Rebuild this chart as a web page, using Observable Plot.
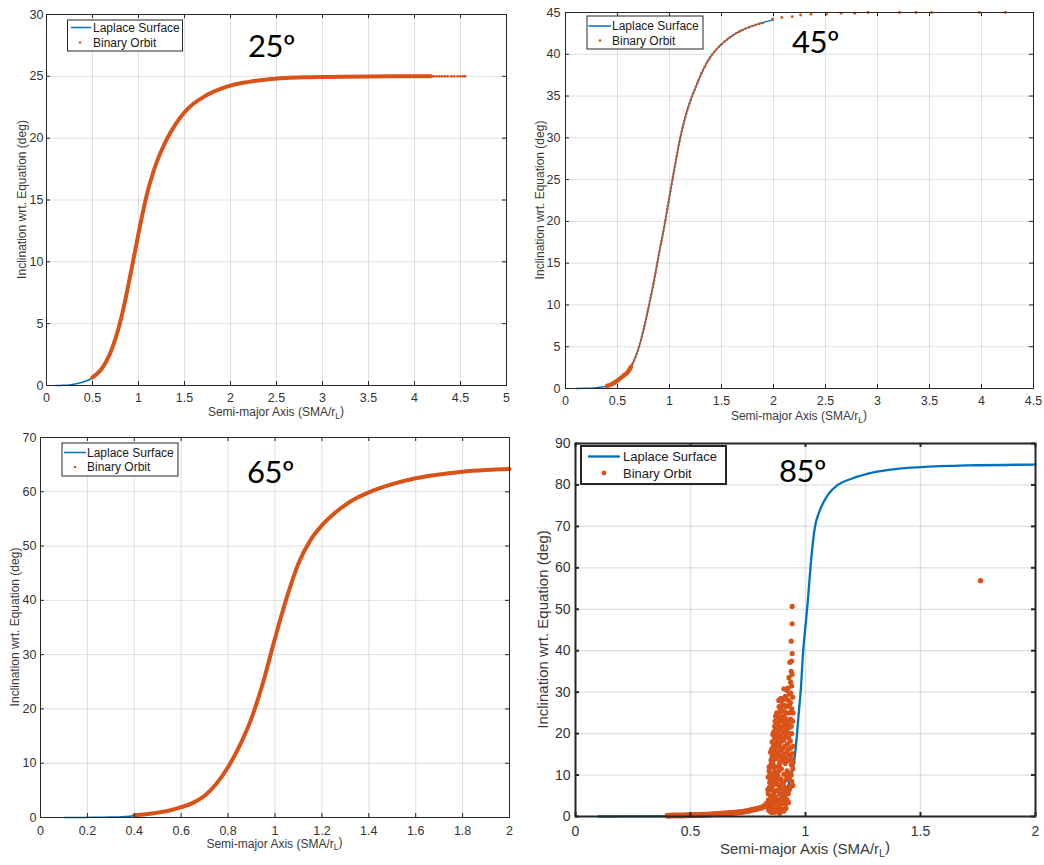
<!DOCTYPE html>
<html><head><meta charset="utf-8">
<script src="https://cdn.jsdelivr.net/npm/d3@7"></script>
<script src="https://cdn.jsdelivr.net/npm/@observablehq/plot@0.6"></script>
<style>
body{margin:0;background:#fff;}
#root{position:relative;width:1044px;height:865px;overflow:hidden;background:#fff;}
</style></head><body><div id="root"></div>
<script>
// ---------- DATA ----------
const BLUE = "#0072BD", ORANGE = "#D95319";
const xLabel = "Semi-major Axis (SMA/r", xLabelSub = "L", xLabelEnd = ")";
const yLabel = "Inclination wrt. Equation (deg)";
const legendNames = ["Laplace Surface", "Binary Orbit"];
const panelTitles = ["25º", "45º", "65º", "85º"];

// Panel 1 : 25º
const x1Ticks = [0,0.5,1,1.5,2,2.5,3,3.5,4,4.5,5];
const y1Ticks = [0,5,10,15,20,25,30];
const lap25X = [0.10,0.15,0.20,0.25,0.30,0.35,0.40,0.45,0.50,0.55,0.60,0.65,0.70,0.75,0.80,0.85,0.90,0.95,1.00,1.05,1.10,1.15,1.20,1.25,1.30,1.40,1.50,1.60,1.70,1.80,1.90,2.00,2.20,2.40,2.60,2.80,3.00,3.50,4.00,4.20];
const lap25Y = [0.00,0.01,0.02,0.05,0.10,0.18,0.28,0.42,0.62,0.95,1.35,1.95,2.75,3.80,5.10,6.70,8.50,10.40,12.30,14.10,15.70,17.00,18.10,19.00,19.80,21.10,22.10,22.80,23.30,23.70,24.00,24.25,24.55,24.75,24.86,24.92,24.95,24.99,25.00,25.00];
const orb25X = [0.50,0.55,0.60,0.65,0.70,0.75,0.80,0.85,0.90,0.95,1.00,1.05,1.10,1.15,1.20,1.25,1.30,1.40,1.50,1.60,1.70,1.80,1.90,2.00,2.20,2.40,2.60,2.80,3.00,3.50,4.00,4.18];
const orb25Y = [0.65,0.95,1.35,1.95,2.75,3.80,5.10,6.70,8.50,10.40,12.30,14.10,15.70,17.00,18.10,19.00,19.80,21.10,22.10,22.80,23.30,23.70,24.00,24.25,24.55,24.75,24.86,24.92,24.95,24.99,25.00,25.00];
const orb25TailX = [4.21,4.24,4.27,4.30,4.33,4.36,4.40,4.43,4.47,4.50,4.53,4.55];
const orb25TailY = [25.0,25.0,25.0,25.0,25.0,25.0,25.0,25.0,25.0,25.0,25.0,25.0];

// Panel 2 : 45º
const x2Ticks = [0,0.5,1,1.5,2,2.5,3,3.5,4,4.5];
const y2Ticks = [0,5,10,15,20,25,30,35,40,45];
const lap45X = [0.10,0.20,0.30,0.35,0.40,0.45,0.50,0.55,0.60,0.65,0.70,0.75,0.80,0.85,0.90,0.95,1.00,1.05,1.10,1.15,1.20,1.25,1.30,1.35,1.40,1.50,1.60,1.70,1.80,1.90,2.00];
const lap45Y = [0.00,0.02,0.10,0.18,0.30,0.55,0.95,1.45,2.00,3.10,4.70,7.00,9.80,12.80,16.20,19.40,23.00,26.50,29.80,32.40,34.40,36.00,37.50,38.80,39.80,41.20,42.20,42.90,43.40,43.80,44.15];
const orb45DenseX = [0.40,0.45,0.50,0.55,0.60,0.63];
const orb45DenseY = [0.30,0.55,0.95,1.45,2.00,2.60];
const orb45CurveX = [0.63,0.65,0.70,0.75,0.80,0.85,0.90,0.95,1.00,1.05,1.10,1.15,1.20,1.25,1.30,1.35,1.40,1.50,1.60,1.70,1.80,1.90];
const orb45CurveY = [2.60,3.10,4.70,7.00,9.80,12.80,16.20,19.40,23.00,26.50,29.80,32.40,34.40,36.00,37.50,38.80,39.80,41.20,42.20,42.90,43.40,43.75];
const orb45TailX = [1.99,2.08,2.18,2.26,2.36,2.51,2.65,2.78,2.91,3.21,3.37,3.52,3.98,4.23];
const orb45TailY = [44.2,44.4,44.5,44.7,44.8,44.8,44.9,44.9,45.0,45.0,45.0,45.0,45.0,45.0];

// Panel 3 : 65º
const x3Ticks = [0,0.2,0.4,0.6,0.8,1,1.2,1.4,1.6,1.8,2];
const y3Ticks = [0,10,20,30,40,50,60,70];
const lap65X = [0.10,0.20,0.30,0.35,0.40,0.45,0.50,0.55,0.60,0.65,0.70,0.75,0.80,0.85,0.90,0.95,1.00,1.05,1.10,1.15,1.20,1.25,1.30,1.35,1.40,1.50,1.60,1.70,1.80,1.90,2.00];
const lap65Y = [0.00,0.02,0.08,0.15,0.30,0.55,0.90,1.30,1.90,2.70,4.00,6.20,9.30,13.30,18.30,25.00,33.00,40.50,46.80,51.00,53.80,55.90,57.60,58.90,59.90,61.40,62.50,63.20,63.70,64.00,64.20];
const orb65X = [0.40,0.45,0.50,0.55,0.60,0.65,0.70,0.75,0.80,0.85,0.90,0.95,1.00,1.05,1.10,1.15,1.20,1.25,1.30,1.35,1.40,1.50,1.60,1.70,1.80,1.90,2.00];
const orb65Y = [0.40,0.60,0.90,1.30,1.90,2.70,4.00,6.20,9.30,13.30,18.30,25.00,33.00,40.50,46.80,51.00,53.80,55.90,57.60,58.90,59.90,61.40,62.50,63.20,63.70,64.00,64.20];

// Panel 4 : 85º
const x4Ticks = [0,0.5,1,1.5,2];
const y4Ticks = [0,10,20,30,40,50,60,70,80,90];
const lap85X = [0.10,0.30,0.50,0.60,0.70,0.75,0.80,0.85,0.88,0.90,0.92,0.935,0.95,0.96,0.97,0.98,0.99,1.00,1.01,1.02,1.03,1.04,1.06,1.08,1.10,1.14,1.20,1.30,1.40,1.50,1.70,2.00];
const lap85Y = [0.00,0.03,0.20,0.40,0.80,1.20,1.80,2.80,3.80,5.00,6.50,9.50,13.00,18.00,24.50,31.00,40.00,46.00,52.00,59.00,65.00,69.50,73.50,76.00,77.80,80.00,81.50,83.10,83.90,84.30,84.70,84.90];
const orb85BandX = [0.40,0.41,0.42,0.43,0.44,0.45,0.46,0.47,0.48,0.49,0.50,0.51,0.52,0.53,0.54,0.55,0.56,0.57,0.58,0.59,0.60,0.61,0.62,0.63,0.64,0.65,0.66,0.67,0.68,0.69,0.70,0.71,0.72,0.73,0.74,0.75,0.76,0.77,0.78,0.79,0.80,0.81,0.82,0.83,0.84];
const orb85BandY = [0.20,0.20,0.22,0.22,0.24,0.25,0.26,0.27,0.28,0.29,0.30,0.32,0.34,0.36,0.38,0.40,0.42,0.44,0.47,0.50,0.55,0.58,0.62,0.66,0.70,0.74,0.78,0.82,0.86,0.90,0.95,1.02,1.08,1.15,1.25,1.35,1.48,1.60,1.72,1.85,2.00,2.20,2.50,3.00,3.80];
const orb85Scatter = [
 [0.942,50.7],[0.942,46.5],[0.938,42.3],[0.942,39.3],[0.932,37.2],[0.940,37.5],[0.938,35.0],[0.942,34.3],[0.935,32.4],[0.940,31.5],
 [0.906,30.8],[0.920,30.4],[0.930,29.5],[0.912,29.0],[0.925,28.0],[0.935,27.5],[0.898,27.0],[0.918,26.5],[0.940,26.0],[0.905,25.5],[0.928,25.0],
 [0.880,24.0],[0.890,23.5],[0.900,24.2],[0.912,23.8],[0.922,23.0],[0.935,23.5],[0.875,22.5],[0.885,22.0],[0.895,21.5],[0.908,22.0],
 [0.918,21.0],[0.930,21.5],[0.870,21.0],[0.880,20.0],[0.892,19.5],[0.903,20.3],[0.915,19.5],[0.927,19.0],[0.940,20.0],[0.865,19.0],
 [0.875,18.0],[0.887,17.5],[0.898,18.2],[0.910,17.0],[0.922,17.5],[0.935,16.5],[0.945,17.0],[0.860,17.0],[0.870,16.0],[0.882,15.5],
 [0.895,16.0],[0.905,15.0],[0.918,15.5],[0.930,14.8],[0.942,15.2],
 [0.855,14.5],[0.865,13.8],[0.877,14.0],[0.888,13.0],[0.900,13.5],[0.912,12.8],[0.925,13.5],[0.938,12.5],[0.850,12.5],[0.860,11.8],
 [0.872,12.0],[0.884,11.0],[0.895,11.5],[0.920,11.0],[0.932,10.5],[0.945,11.5],[0.845,10.5],[0.856,10.0],[0.868,9.5],[0.880,9.8],
 [0.893,9.0],[0.915,8.8],[0.928,9.2],[0.940,8.5],[0.848,8.5],[0.860,8.0],[0.873,7.8],[0.885,7.5],[0.898,8.2],[0.910,7.0],[0.935,7.2],[0.945,7.5],
 [0.842,7.0],[0.852,6.5],[0.864,6.0],[0.876,6.3],[0.888,5.5],[0.900,6.0],[0.912,5.0],[0.925,5.5],[0.838,5.5],[0.848,5.0],
 [0.858,4.5],[0.870,4.8],[0.882,4.0],[0.895,4.5],[0.908,3.5],[0.920,4.0],[0.840,4.0],[0.850,3.5],[0.862,3.0],[0.874,3.2],
 [0.886,2.5],[0.898,3.0],[0.845,2.5],[0.856,2.0],[0.868,1.8],[0.880,2.2],[0.892,1.5],[0.906,1.3],[0.915,2.0],[0.835,3.0],
 [0.838,9.5],[0.842,12.0],[0.848,15.5],[0.855,18.0],[0.862,20.5],[0.868,23.0],[0.875,25.0],[0.885,26.5],[0.893,28.5],
 [0.840,1.5],[0.846,1.2],[0.852,1.0],[0.858,1.4],[0.864,1.0],[0.870,1.2],[0.876,1.5],[0.882,1.0],[0.888,0.8],[0.898,1.8],
 [0.838,2.2],[0.844,3.4],[0.852,4.2],[0.860,5.2],[0.866,3.8],[0.878,3.0],[0.890,3.6],[0.902,4.2],[0.914,3.0],[0.926,3.4],
 [0.836,6.5],[0.844,8.2],[0.850,9.2],[0.856,7.2],[0.866,8.6],[0.878,8.8],[0.890,6.8],[0.904,7.8],[0.918,6.2],[0.930,6.5],
 [0.842,11.0],[0.850,13.6],[0.858,12.8],[0.866,10.8],[0.874,10.5],[0.886,12.2],[0.906,10.2],[0.918,9.8],[0.938,10.0],[0.946,13.0],
 [0.852,16.2],[0.858,15.2],[0.866,17.2],[0.874,14.8],[0.884,16.8],[0.892,14.5],[0.904,16.5],[0.912,14.2],[0.926,16.2],[0.940,14.0],
 [0.858,19.8],[0.866,21.8],[0.872,19.5],[0.880,18.8],[0.888,21.0],[0.896,19.0],[0.906,18.5],[0.914,21.2],[0.924,20.2],[0.934,18.2],
 [0.870,24.2],[0.878,22.8],[0.888,25.2],[0.896,23.0],[0.906,23.0],[0.916,25.0],[0.926,22.2],[0.938,21.8],[0.944,23.0],[0.930,26.8],
 [0.884,28.0],[0.892,26.0],[0.902,28.2],[0.910,26.8],[0.916,28.4],[0.924,31.0],[0.936,29.8],[0.944,28.8],[0.946,25.0],[0.928,33.5],
 [1.761,56.9]
];

// ---------- helpers ----------
const pts = (xs, ys) => xs.map((x, i) => ({x, y: ys[i]}));
const FONT = "'Liberation Sans', Arial, Helvetica, sans-serif";
const root = document.getElementById("root");

function makePanel(cfg) {
  const W = cfg.width - cfg.mL - cfg.mR, H = cfg.height - cfg.mT - cfg.mB;
  const tl = cfg.tickLen, ink = "#262626";
  const svg = Plot.plot({
    width: cfg.width, height: cfg.height,
    marginLeft: cfg.mL, marginRight: cfg.mR, marginTop: cfg.mT, marginBottom: cfg.mB,
    style: {fontFamily: FONT, fontSize: cfg.tickFont + "px", color: "#333", background: "transparent", overflow: "visible"},
    x: {domain: cfg.xDomain, ticks: cfg.xTicks, tickSize: 0, tickPadding: cfg.xPad, tickFormat: d => String(d), label: null},
    y: {domain: cfg.yDomain, ticks: cfg.yTicks, tickSize: 0, tickPadding: cfg.yPad, tickFormat: d => String(d), label: null},
    marks: [
      Plot.ruleX(cfg.xTicks, {stroke: ink, strokeOpacity: 0.14, strokeWidth: cfg.gridW}),
      Plot.ruleY(cfg.yTicks, {stroke: ink, strokeOpacity: 0.14, strokeWidth: cfg.gridW}),
      ...cfg.marks,
      Plot.tickX(cfg.xTicks, {x: d => d, insetTop: H - tl, stroke: ink, strokeWidth: cfg.frameW}),
      Plot.tickX(cfg.xTicks, {x: d => d, insetBottom: H - tl, stroke: ink, strokeWidth: cfg.frameW}),
      Plot.tickY(cfg.yTicks, {y: d => d, insetRight: W - tl, stroke: ink, strokeWidth: cfg.frameW}),
      Plot.tickY(cfg.yTicks, {y: d => d, insetLeft: W - tl, stroke: ink, strokeWidth: cfg.frameW}),
      Plot.frame({stroke: ink, strokeWidth: cfg.frameW})
    ]
  });
  svg.style.position = "absolute";
  svg.style.left = cfg.left + "px";
  svg.style.top = cfg.top + "px";
  const s = d3.select(svg), ox = cfg.left, oy = cfg.top;

  // x axis label with subscript
  const xt = s.append("text")
    .attr("x", cfg.mL + W / 2).attr("y", cfg.xLabelY - oy)
    .attr("text-anchor", "middle").attr("fill", "#3a3a3a")
    .style("font-family", FONT).style("font-size", cfg.labelFont + "px");
  xt.append("tspan").text(xLabel);
  xt.append("tspan").text(xLabelSub).attr("dy", "0.3em").style("font-size", "0.72em");
  xt.append("tspan").text(xLabelEnd).attr("dy", "-0.3em");

  // y axis label
  s.append("text")
    .attr("transform", `translate(${cfg.yLabelX - ox},${cfg.mT + H / 2}) rotate(-90)`)
    .attr("text-anchor", "middle").attr("dominant-baseline", "central").attr("fill", "#3a3a3a")
    .style("font-family", FONT).style("font-size", cfg.labelFont + "px")
    .text(yLabel);

  // legend
  const L = cfg.legend, g = s.append("g").attr("text-anchor", "start");
  g.append("rect").attr("x", L.box[0] - ox).attr("y", L.box[1] - oy)
    .attr("width", L.box[2] - L.box[0]).attr("height", L.box[3] - L.box[1])
    .attr("fill", "white").attr("stroke", ink).attr("stroke-width", L.bw);
  g.append("line").attr("x1", L.line[0] - ox).attr("x2", L.line[1] - ox)
    .attr("y1", L.rows[0] - oy).attr("y2", L.rows[0] - oy)
    .attr("stroke", BLUE).attr("stroke-width", cfg.lineW);
  g.append("circle").attr("cx", L.dotX - ox).attr("cy", L.rows[1] - oy).attr("r", L.dotR).attr("fill", ORANGE);
  legendNames.forEach((n, i) => {
    g.append("text").attr("x", L.textX - ox).attr("y", L.rows[i] - oy)
      .attr("text-anchor", "start").attr("dominant-baseline", "central").attr("fill", "#1a1a1a")
      .style("font-family", FONT).style("font-size", L.font + "px").text(n);
  });

  // big annotation
  s.append("text").attr("x", cfg.title[0] - ox).attr("y", cfg.title[1] - oy)
    .attr("text-anchor", "start")
    .attr("fill", "#000").style("font-family", "Lato, 'Open Sans', sans-serif")
    .style("font-size", "31px").style("letter-spacing", "-0.5px").text(cfg.titleText);

  root.appendChild(svg);
}

// ---------- panels ----------
makePanel({
  left: 0, top: 0, width: 520, height: 425, mL: 46, mR: 14, mT: 14, mB: 40,
  xDomain: [0, 5], yDomain: [0, 30], xTicks: x1Ticks, yTicks: y1Ticks,
  tickFont: 12.5, labelFont: 12, xPad: 8, yPad: 3, tickLen: 4, frameW: 1, gridW: 1, lineW: 1.5,
  xLabelY: 416, yLabelX: 22,
  legend: {box: [67.5, 20, 182.5, 51], line: [71, 91], rows: [27.5, 42.5], dotX: 80, dotR: 1.3, textX: 93, font: 12, bw: 1},
  title: [248, 57], titleText: panelTitles[0],
  marks: [
    Plot.line(pts(lap25X, lap25Y), {x: "x", y: "y", stroke: BLUE, strokeWidth: 1.5, curve: "monotone-x"}),
    Plot.line(pts(orb25X, orb25Y), {x: "x", y: "y", stroke: ORANGE, strokeWidth: 4, strokeLinecap: "round", curve: "monotone-x"}),
    Plot.dot(pts(orb25TailX, orb25TailY), {x: "x", y: "y", r: 1.4, fill: ORANGE, stroke: "none"})
  ]
});

makePanel({
  left: 520, top: 0, width: 524, height: 425, mL: 45, mR: 11, mT: 12, mB: 37,
  xDomain: [0, 4.5], yDomain: [0, 45], xTicks: x2Ticks, yTicks: y2Ticks,
  tickFont: 12.5, labelFont: 12, xPad: 8, yPad: 5, tickLen: 4, frameW: 1, gridW: 1, lineW: 1.5,
  xLabelY: 420, yLabelX: 540,
  legend: {box: [587, 16, 703, 49], line: [588.5, 611], rows: [26, 40.5], dotX: 600, dotR: 1.3, textX: 612, font: 12, bw: 1},
  title: [792, 53], titleText: panelTitles[1],
  marks: [
    Plot.line(pts(lap45X, lap45Y), {x: "x", y: "y", stroke: BLUE, strokeWidth: 1.5, curve: "monotone-x"}),
    Plot.line(pts(orb45DenseX, orb45DenseY), {x: "x", y: "y", stroke: ORANGE, strokeWidth: 4.5, strokeLinecap: "round", curve: "monotone-x"}),
    Plot.line(pts(orb45CurveX, orb45CurveY), {x: "x", y: "y", stroke: ORANGE, strokeWidth: 2.6, strokeLinecap: "round", strokeDasharray: "0 3.6", curve: "monotone-x"}),
    Plot.dot(pts(orb45TailX, orb45TailY), {x: "x", y: "y", r: 1.4, fill: ORANGE, stroke: "none"})
  ]
});

makePanel({
  left: 0, top: 425, width: 520, height: 440, mL: 40, mR: 11, mT: 12, mB: 48,
  xDomain: [0, 2], yDomain: [0, 70], xTicks: x3Ticks, yTicks: y3Ticks,
  tickFont: 12.5, labelFont: 12, xPad: 9, yPad: 4, tickLen: 4, frameW: 1, gridW: 1, lineW: 1.5,
  xLabelY: 847.5, yLabelX: 15,
  legend: {box: [62, 443, 178, 476], line: [64, 86], rows: [452.5, 467], dotX: 75, dotR: 1.3, textX: 87, font: 12, bw: 1},
  title: [247, 483], titleText: panelTitles[2],
  marks: [
    Plot.line(pts(lap65X, lap65Y), {x: "x", y: "y", stroke: BLUE, strokeWidth: 1.5, curve: "monotone-x"}),
    Plot.line(pts(orb65X, orb65Y), {x: "x", y: "y", stroke: ORANGE, strokeWidth: 4, strokeLinecap: "round", curve: "monotone-x"})
  ]
});

makePanel({
  left: 520, top: 425, width: 524, height: 440, mL: 55, mR: 9, mT: 18, mB: 49,
  xDomain: [0, 2], yDomain: [0, 90], xTicks: x4Ticks, yTicks: y4Ticks,
  tickFont: 14, labelFont: 15, xPad: 10, yPad: 5, tickLen: 4, frameW: 2, gridW: 1.3, lineW: 2.3,
  xLabelY: 853.5, yLabelX: 542,
  legend: {box: [581, 446, 726, 484], line: [588, 620], rows: [456.5, 473], dotX: 604, dotR: 2.4, textX: 623, font: 13, bw: 2},
  title: [779, 482], titleText: panelTitles[3],
  marks: [
    Plot.line(pts(lap85X, lap85Y), {x: "x", y: "y", stroke: BLUE, strokeWidth: 2.3, curve: "monotone-x"}),
    Plot.dot(pts(orb85BandX, orb85BandY), {x: "x", y: "y", r: 3, fill: ORANGE, stroke: "none"}),
    Plot.dot(orb85Scatter, {x: d => d[0], y: d => d[1], r: 2.6, fill: ORANGE, stroke: "none"})
  ]
});
</script></body></html>
